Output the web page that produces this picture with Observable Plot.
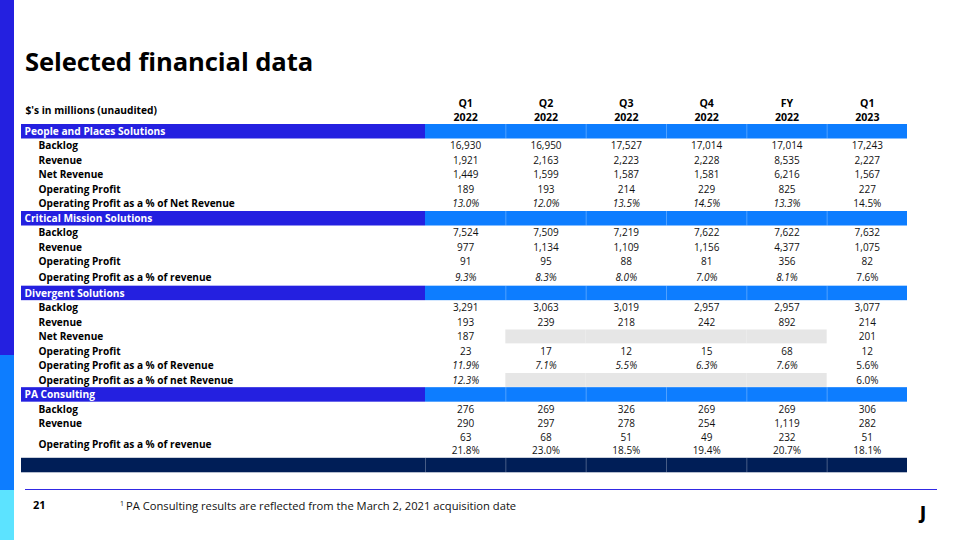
<!DOCTYPE html>
<html>
<head>
<meta charset="utf-8">
<script src="https://cdn.jsdelivr.net/npm/d3@7"></script>
<script src="https://cdn.jsdelivr.net/npm/@observablehq/plot@0.6"></script>
<style>
  html, body { margin: 0; padding: 0; background: #fff; }
  #page { position: relative; width: 960px; height: 540px; overflow: hidden; font-family: "Open Sans", "Noto Sans", sans-serif; color: #000; }
  .abs { position: absolute; }
  #title { left: 25px; top: 49px; font-size: 25.6px; font-weight: 700; line-height: 1; white-space: nowrap; letter-spacing: -0.1px; }
  #chart { left: 0; top: 90px; }
  #rule { left: 25px; top: 488.5px; width: 912px; height: 1.5px; background: #3129E4; }
  #pageno { left: 33px; top: 499px; font-size: 11px; font-weight: 700; line-height: 1; }
  #note { left: 120px; top: 500px; font-size: 11.2px; line-height: 1; white-space: nowrap; color: #111; }
  #note sup { font-size: 7px; vertical-align: 4px; margin-right: 2px; }
  #logo { left: 920px; top: 504px; font-size: 17px; font-weight: 800; line-height: 1; }
</style>
</head>
<body>
<div id="page">
  <div class="abs" style="left:0;top:0;width:14px;height:355px;background:#2420E0"></div>
  <div class="abs" style="left:0;top:355px;width:14px;height:135px;background:#0D7DFF"></div>
  <div class="abs" style="left:0;top:490px;width:14px;height:50px;background:#5CE3FF"></div>
  <div id="title" class="abs">Selected financial data</div>
  <div id="chart" class="abs"></div>
  <div id="rule" class="abs"></div>
  <div id="pageno" class="abs">21</div>
  <div id="note" class="abs"><sup>1</sup>PA Consulting results are reflected from the March 2, 2021 acquisition date</div>
  <div id="logo" class="abs">J</div>
</div>
<script>
// ---------------- data ----------------
const quarters = ["Q1", "Q2", "Q3", "Q4", "FY", "Q1"];
const years = ["2022", "2022", "2022", "2022", "2022", "2023"];
const unitsLabel = "$'s in millions (unaudited)";

const ppsName = "People and Places Solutions";
const ppsMetrics = ["Backlog", "Revenue", "Net Revenue", "Operating Profit", "Operating Profit as a % of Net Revenue"];
const ppsBacklog = [16930, 16950, 17527, 17014, 17014, 17243];
const ppsRevenue = [1921, 2163, 2223, 2228, 8535, 2227];
const ppsNetRevenue = [1449, 1599, 1587, 1581, 6216, 1567];
const ppsOperatingProfit = [189, 193, 214, 229, 825, 227];
const ppsOpMargin = [13.0, 12.0, 13.5, 14.5, 13.3, 14.5];

const cmsName = "Critical Mission Solutions";
const cmsMetrics = ["Backlog", "Revenue", "Operating Profit", "Operating Profit as a % of revenue"];
const cmsBacklog = [7524, 7509, 7219, 7622, 7622, 7632];
const cmsRevenue = [977, 1134, 1109, 1156, 4377, 1075];
const cmsOperatingProfit = [91, 95, 88, 81, 356, 82];
const cmsOpMargin = [9.3, 8.3, 8.0, 7.0, 8.1, 7.6];

const dsName = "Divergent Solutions";
const dsMetrics = ["Backlog", "Revenue", "Net Revenue", "Operating Profit", "Operating Profit as a % of Revenue", "Operating Profit as a % of net Revenue"];
const dsBacklog = [3291, 3063, 3019, 2957, 2957, 3077];
const dsRevenue = [193, 239, 218, 242, 892, 214];
const dsNetRevenue = [187, null, null, null, null, 201];
const dsOperatingProfit = [23, 17, 12, 15, 68, 12];
const dsOpMargin = [11.9, 7.1, 5.5, 6.3, 7.6, 5.6];
const dsOpMarginNet = [12.3, null, null, null, null, 6.0];

const paName = "PA Consulting";
const paMetrics = ["Backlog", "Revenue", "Operating Profit as a % of revenue"];
const paBacklog = [276, 269, 326, 269, 269, 306];
const paRevenue = [290, 297, 278, 254, 1119, 282];
const paOperatingProfit = [63, 68, 51, 49, 232, 51];
const paOpMargin = [21.8, 23.0, 18.5, 19.4, 20.7, 18.1];

// ---------------- table model ----------------
const fmtNum = d3.format(",");
const fmtPct = v => v.toFixed(1) + "%";

const sectionsSpec = [
  {name: ppsName, metrics: ppsMetrics, series: [ppsBacklog, ppsRevenue, ppsNetRevenue, ppsOperatingProfit, ppsOpMargin], pct: [false, false, false, false, true], italicPct: true},
  {name: cmsName, metrics: cmsMetrics, series: [cmsBacklog, cmsRevenue, cmsOperatingProfit, cmsOpMargin], pct: [false, false, false, true], italicPct: true, tallLast: true},
  {name: dsName, metrics: dsMetrics, series: [dsBacklog, dsRevenue, dsNetRevenue, dsOperatingProfit, dsOpMargin, dsOpMarginNet], pct: [false, false, false, false, true, true], italicPct: true},
  {name: paName, metrics: paMetrics, series: [paBacklog, paRevenue, [paOperatingProfit, paOpMargin]], pct: [false, false, "double"], italicPct: false}
];

const labelColPx = 404, dataColPx = 80.33, rowPx = 14.5, topPx = 34;

const rows = [];
for (const s of sectionsSpec) {
  rows.push({type: "section", label: s.name, h: 1});
  s.metrics.forEach((m, i) => {
    const isDouble = s.pct[i] === "double";
    let h = 1;
    if (isDouble) h = 1.87;
    if (s.tallLast && i === s.metrics.length - 1) h = 1.15;
    rows.push({type: "metric", label: m, series: s.series[i], pct: s.pct[i], italic: s.italicPct, h});
  });
}
rows.push({type: "band", label: "", h: 1});

let acc = 0;
for (const r of rows) { r.y1 = acc; r.y2 = acc + r.h; r.y = acc + r.h / 2; acc += r.h; }
const total = acc;

const bands = rows.filter(r => r.type === "section");
const footBand = rows.filter(r => r.type === "band");
const metricRows = rows.filter(r => r.type === "metric");

const cells = [];      // value texts
const blanks = [];     // grey empty cells
const half = 6.5 / rowPx;
for (const r of metricRows) {
  for (let c = 0; c < 6; c++) {
    if (r.pct === "double") {
      cells.push({x: c + 0.5, y: r.y - half, text: fmtNum(r.series[0][c]), italic: false});
      cells.push({x: c + 0.5, y: r.y + half, text: fmtPct(r.series[1][c]), italic: false});
    } else {
      const v = r.series[c];
      if (v == null) { blanks.push({c, y1: r.y1, y2: r.y2}); continue; }
      cells.push({x: c + 0.5, y: r.y, text: r.pct ? fmtPct(v) : fmtNum(v), italic: r.pct && r.italic && c < 5});
    }
  }
}

const seps = [];
for (const b of bands) for (let k = 1; k < 6; k++) seps.push({x: k, y1: b.y1, y2: b.y2});
for (const b of footBand) for (let k = 0; k < 6; k++) seps.push({x: k, y1: b.y1, y2: b.y2});

const headers = quarters.map((q, i) => ({x: i + 0.5, text: q + "\n" + years[i]}));

// ---------------- chart ----------------
const xMin = -labelColPx / dataColPx;
const font = "'Open Sans', 'Noto Sans', sans-serif";

const chart = Plot.plot({
  width: 960,
  height: 390,
  margin: 0,
  x: {type: "linear", domain: [xMin, 6], range: [21, 907], axis: null},
  y: {type: "linear", domain: [0, total], range: [topPx, topPx + total * rowPx], axis: null},
  style: {fontFamily: font, overflow: "visible", background: "transparent"},
  marks: [
    Plot.rect(bands, {x1: xMin, x2: 0, y1: "y1", y2: "y2", fill: "#2420E0"}),
    Plot.rect(bands, {x1: 0, x2: 6, y1: "y1", y2: "y2", fill: "#0D7DFF"}),
    Plot.rect(footBand, {x1: xMin, x2: 6, y1: "y1", y2: "y2", fill: "#001E57"}),
    Plot.rect(blanks, {x1: "c", x2: d => d.c + 1, y1: "y1", y2: "y2", fill: "#E6E6E6", insetTop: 0.3, insetBottom: 0.3}),
    Plot.ruleX(seps, {x: "x", y1: "y1", y2: "y2", stroke: "#fff", strokeOpacity: 0.28, strokeWidth: 1}),
    Plot.text(headers, {x: "x", y: -1.03, text: "text", fontSize: 10.6, fontWeight: 700, lineHeight: 1.3, fill: "#000"}),
    Plot.text([unitsLabel], {x: xMin, y: -0.97, text: d => d, dx: 4, textAnchor: "start", fontSize: 10.2, fontWeight: 700, fill: "#000"}),
    Plot.text(bands, {x: xMin, y: "y", text: "label", dx: 3, textAnchor: "start", fontSize: 10.2, fontWeight: 700, fill: "#fff"}),
    Plot.text(metricRows, {x: xMin, y: "y", text: "label", dx: 17, textAnchor: "start", fontSize: 10.1, fontWeight: 700, fill: "#000"}),
    Plot.text(cells.filter(d => !d.italic), {x: "x", y: "y", text: "text", fontSize: 10, fill: "#111"}),
    Plot.text(cells.filter(d => d.italic), {x: "x", y: "y", text: "text", fontSize: 10, fontStyle: "italic", fill: "#111"})
  ]
});
document.getElementById("chart").appendChild(chart);
</script>
</body>
</html>
